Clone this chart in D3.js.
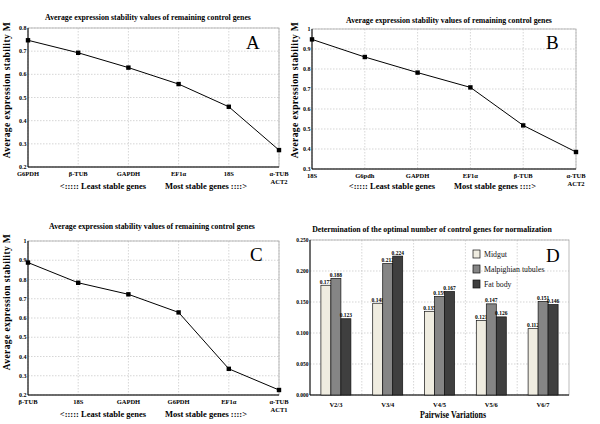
<!DOCTYPE html>
<html><head><meta charset="utf-8">
<script src="https://cdn.jsdelivr.net/npm/d3@7"></script>
<style>body{margin:0;background:#fff}svg{display:block}</style>
</head><body>
<svg id="c" width="600" height="424" font-family="'Liberation Serif', 'Times New Roman', 'DejaVu Serif', serif"></svg>
<script>
// Panel A
const genesA = ["G6PDH","β-TUB","GAPDH","EF1α","18S","α-TUB|ACT2"];
const valuesA = [0.747,0.693,0.629,0.558,0.460,0.273];
const ticksA = [0.2,0.3,0.4,0.5,0.6,0.7,0.8];
// Panel B
const genesB = ["18S","G6pdh","GAPDH","EF1α","β-TUB","α-TUB|ACT2"];
const valuesB = [0.948,0.860,0.782,0.708,0.518,0.385];
const ticksB = [0.3,0.4,0.5,0.6,0.7,0.8,0.9,1];
// Panel C
const genesC = ["β-TUB","18S","GAPDH","G6PDH","EF1α","α-TUB|ACT1"];
const valuesC = [0.888,0.783,0.723,0.629,0.336,0.226];
const ticksC = [0.2,0.3,0.4,0.5,0.6,0.7,0.8,0.9,1];
// Panel D
const variations = ["V2/3","V3/4","V4/5","V5/6","V6/7"];
const tissues = ["Midgut","Malpighian tubules","Fat body"];
const midgut = [0.177,0.148,0.135,0.120,0.107];
const malpighian = [0.188,0.212,0.159,0.147,0.151];
const fatBody = [0.123,0.224,0.167,0.126,0.146];
const midgutLabels = ["0.177","0.148","0.135","0.121","0.112"];
const malpighianLabels = ["0.188","0.212","0.159","0.147","0.151"];
const fatBodyLabels = ["0.123","0.224","0.167","0.126","0.146"];
const ticksD = [0,0.05,0.1,0.15,0.2,0.25];

const FF = "'Liberation Serif', 'Times New Roman', serif";
const svg = d3.select("#c");
const title = "Average expression stability values of remaining control genes";
const ylab = "Average expression stability M";

function T(g){ return g.append("text").attr("font-family",FF); }

function linePanel(o){
  const g = svg.append("g");
  const x = d3.scalePoint().domain(o.genes).range([o.x0,o.x1]);
  const y = d3.scaleLinear().domain([o.ymin,o.ymax]).range([o.y1,o.y0]);
  g.selectAll(".hg").data(o.ticks).enter().append("line")
    .attr("x1",o.x0).attr("x2",o.x1).attr("y1",d=>y(d)).attr("y2",d=>y(d))
    .attr("stroke","#bbb").attr("stroke-width",0.6).attr("stroke-dasharray","1.5,1.5");
  g.selectAll(".vg").data(o.genes).enter().append("line")
    .attr("x1",d=>x(d)).attr("x2",d=>x(d)).attr("y1",o.y0).attr("y2",o.y1)
    .attr("stroke","#bbb").attr("stroke-width",0.6).attr("stroke-dasharray","1.5,1.5");
  g.append("rect").attr("x",o.x0).attr("y",o.y0).attr("width",o.x1-o.x0).attr("height",o.y1-o.y0)
    .attr("fill","none").attr("stroke","#aaa").attr("stroke-width",0.8);
  g.append("line").attr("x1",o.x0).attr("x2",o.x0).attr("y1",o.y0).attr("y2",o.y1).attr("stroke","#000").attr("stroke-width",1);
  g.append("line").attr("x1",o.x0).attr("x2",o.x1).attr("y1",o.y1).attr("y2",o.y1).attr("stroke","#000").attr("stroke-width",1);
  o.ticks.forEach(d=>{
    T(g).attr("x",o.x0-1.5).attr("y",y(d)+2).attr("text-anchor","end")
      .attr("font-size","6px").attr("font-weight","bold").text(String(d));
  });
  o.genes.forEach(gn=>{
    gn.split("|").forEach((p,i)=>{
      T(g).attr("x",x(gn)).attr("y",o.y1+9+i*7.5).attr("text-anchor","middle")
        .attr("font-size","6.5px").attr("font-weight","bold").text(p);
    });
  });
  const data = o.genes.map((gn,i)=>[gn,o.values[i]]);
  g.append("path").datum(data).attr("fill","none").attr("stroke","#000").attr("stroke-width",1)
    .attr("d",d3.line().x(d=>x(d[0])).y(d=>y(d[1])));
  g.selectAll(".m").data(data).enter().append("rect")
    .attr("x",d=>x(d[0])-2.2).attr("y",d=>y(d[1])-2.2).attr("width",4.4).attr("height",4.4).attr("fill","#000");
  T(g).attr("x",o.tx).attr("y",o.ty).attr("text-anchor","middle")
    .attr("font-size","7.8px").attr("font-weight","bold").text(title);
  T(g).attr("x",o.lx).attr("y",o.ly).attr("font-size","19px").text(o.letter);
  T(g).attr("x",o.b1).attr("y",o.by).attr("text-anchor","middle")
    .attr("font-size","8.5px").attr("font-weight","bold").text("<::::: Least stable genes");
  T(g).attr("x",o.b2).attr("y",o.by).attr("text-anchor","middle")
    .attr("font-size","8.5px").attr("font-weight","bold").text("Most stable genes ::::>");
  T(g).attr("transform",`translate(${o.ylx},${o.yly}) rotate(-90)`).attr("text-anchor","middle")
    .attr("font-size","9.5px").attr("font-weight","bold").attr("letter-spacing","0.4px").text(ylab);
}

linePanel({genes:genesA,values:valuesA,ticks:ticksA,ymin:0.2,ymax:0.8,x0:28,x1:279,y0:28,y1:167,
  tx:148,ty:20,letter:"A",lx:246,ly:49,b1:103,b2:206,by:189,ylx:10,yly:90});
linePanel({genes:genesB,values:valuesB,ticks:ticksB,ymin:0.3,ymax:1,x0:312,x1:576,y0:29,y1:169,
  tx:449,ty:23,letter:"B",lx:546,ly:49,b1:392,b2:495,by:189,ylx:298,yly:90});
linePanel({genes:genesC,values:valuesC,ticks:ticksC,ymin:0.2,ymax:1,x0:28,x1:279,y0:241,y1:395,
  tx:152,ty:229,letter:"C",lx:250,ly:261,b1:103,b2:206,by:417,ylx:10,yly:302});

// Panel D
(function(){
  const x0=310,x1=569,y0=240,y1=395;
  const g = svg.append("g");
  const x = d3.scaleBand().domain(variations).range([x0,x1]);
  const xs = d3.scaleBand().domain(tissues).range([0,30]);
  const y = d3.scaleLinear().domain([0,0.25]).range([y1,y0]);
  g.selectAll(".hg").data(ticksD).enter().append("line")
    .attr("x1",x0).attr("x2",x1).attr("y1",d=>y(d)).attr("y2",d=>y(d))
    .attr("stroke","#bbb").attr("stroke-width",0.6).attr("stroke-dasharray","1.5,1.5");
  g.selectAll(".vg").data(variations.slice(1)).enter().append("line")
    .attr("x1",d=>x(d)).attr("x2",d=>x(d)).attr("y1",y0).attr("y2",y1)
    .attr("stroke","#bbb").attr("stroke-width",0.6).attr("stroke-dasharray","1.5,1.5");
  g.append("rect").attr("x",x0).attr("y",y0).attr("width",x1-x0).attr("height",y1-y0)
    .attr("fill","none").attr("stroke","#aaa").attr("stroke-width",0.8);
  g.append("line").attr("x1",x0).attr("x2",x0).attr("y1",y0).attr("y2",y1).attr("stroke","#000");
  g.append("line").attr("x1",x0).attr("x2",x1).attr("y1",y1).attr("y2",y1).attr("stroke","#000").attr("stroke-width",1.2);
  ticksD.forEach(d=>{
    T(g).attr("x",x0-1.5).attr("y",y(d)+2).attr("text-anchor","end")
      .attr("font-size","5.5px").attr("font-weight","bold").text(d3.format(".3f")(d));
  });
  const series = [
    {name:tissues[0],vals:midgut,labs:midgutLabels,color:"#efece0"},
    {name:tissues[1],vals:malpighian,labs:malpighianLabels,color:"#858585"},
    {name:tissues[2],vals:fatBody,labs:fatBodyLabels,color:"#3f3f3f"}];
  series.forEach(s=>{
    const off = (x.bandwidth()-30)/2;
    variations.forEach((v,i)=>{
      const bx = x(v)+off+xs(s.name);
      g.append("rect").attr("x",bx).attr("y",y(s.vals[i])).attr("width",xs.bandwidth())
        .attr("height",y1-y(s.vals[i])).attr("fill",s.color).attr("stroke","#111").attr("stroke-width",0.7);
      T(g).attr("x",bx+xs.bandwidth()/2).attr("y",y(s.vals[i])-1.5).attr("text-anchor","middle")
        .attr("font-size","5.5px").attr("font-weight","bold").text(s.labs[i]);
    });
  });
  variations.forEach(d=>{
    T(g).attr("x",x(d)+x.bandwidth()/2).attr("y",407).attr("text-anchor","middle")
      .attr("font-size","6.5px").attr("font-weight","bold").text(d);
  });
  T(g).attr("x",453).attr("y",418).attr("text-anchor","middle")
    .attr("font-size","10.5px").attr("font-weight","bold")
    .attr("textLength",66).attr("lengthAdjust","spacingAndGlyphs").text("Pairwise Variations");
  T(g).attr("x",432).attr("y",232).attr("text-anchor","middle")
    .attr("font-size","7.8px").attr("font-weight","bold").text("Determination of the optimal number of control genes for normalization");
  T(g).attr("x",546).attr("y",262).attr("font-size","19px").text("D");
  series.forEach((s,i)=>{
    const ly = 250+i*15;
    g.append("rect").attr("x",473).attr("y",ly).attr("width",7).attr("height",8)
      .attr("fill",s.color).attr("stroke","#111").attr("stroke-width",0.7);
    T(g).attr("x",484).attr("y",ly+7).attr("font-size","7.8px").attr("fill","#111").text(s.name);
  });
})();
</script>
</body></html>
